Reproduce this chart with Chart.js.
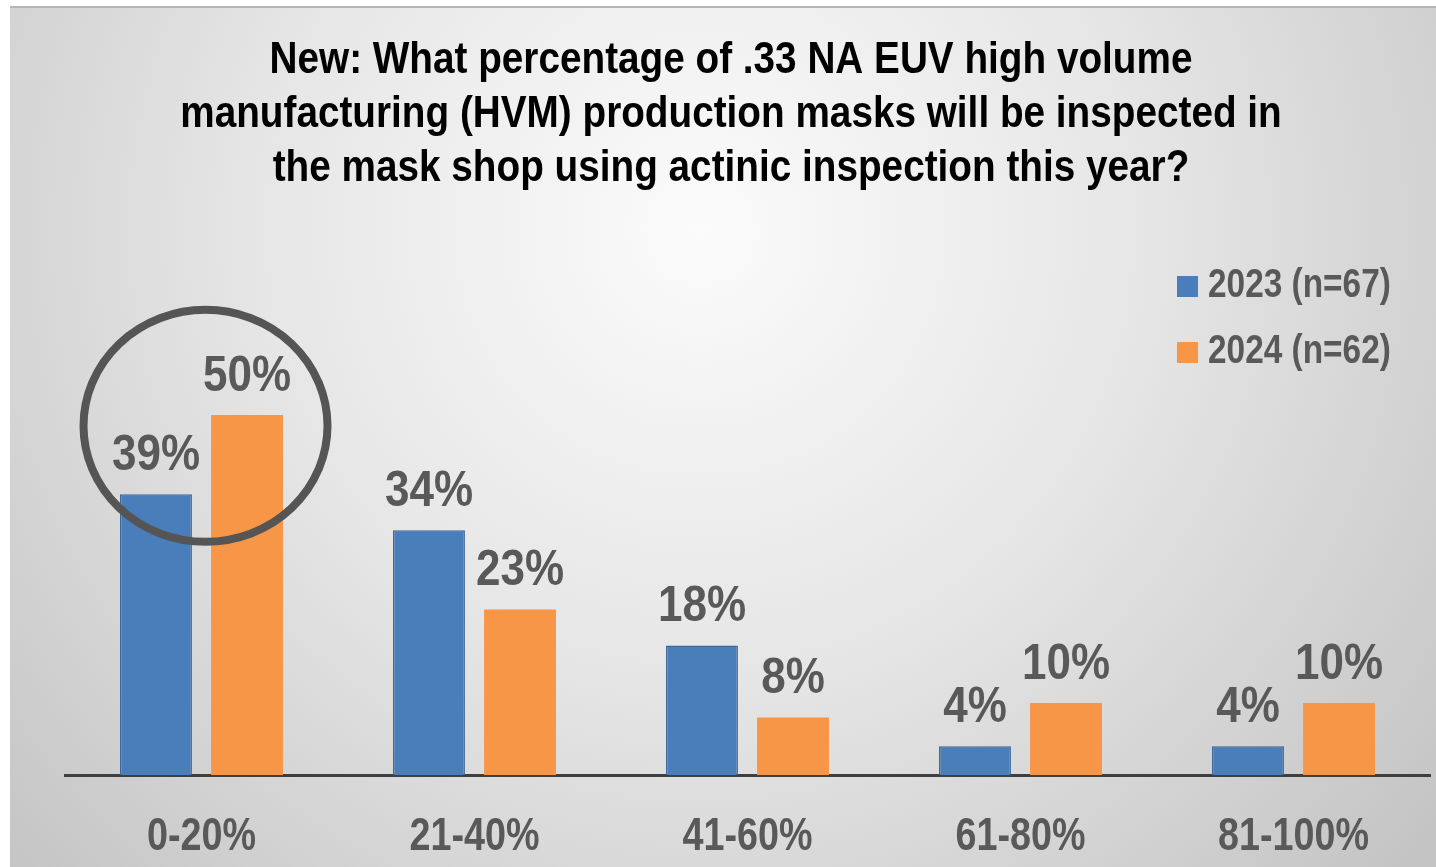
<!DOCTYPE html>
<html>
<head>
<meta charset="utf-8">
<title>Actinic inspection of .33 NA EUV HVM masks</title>
<script src="https://cdn.jsdelivr.net/npm/chart.js@4.4.1/dist/chart.umd.min.js"></script>
<style>
  html, body { margin: 0; padding: 0; background: #fff; }
  #wrap { width: 1436px; height: 867px; }
</style>
</head>
<body>
<div id="wrap"><canvas id="maskChart" width="1436" height="867"></canvas></div>
<script>
// Survey answers, share of respondents per bucket
const categories = ['0-20%', '21-40%', '41-60%', '61-80%', '81-100%'];
const seriesNames = ['2023 (n=67)', '2024 (n=62)'];
const values2023 = [39, 34, 18, 4, 4];
const values2024 = [50, 23, 8, 10, 10];
const titleLines = [
    'New: What percentage of .33 NA EUV high volume',
    'manufacturing (HVM) production masks will be inspected in',
    'the mask shop using actinic inspection this year?'
];

const FONT = "'Liberation Sans Narrow', 'Arial Narrow', 'Liberation Sans', Arial, sans-serif";
const GRAY = '#595959';

// No narrow face available, so squeeze the bold sans horizontally
function narrowText(ctx, text, x, y, align, sx) {
    ctx.save();
    ctx.translate(x, y);
    ctx.scale(sx, 1);
    ctx.textAlign = align;
    ctx.fillText(text, 0, 0);
    ctx.restore();
}

// Grey slide-style backdrop, brighter in the middle
const backdrop = {
    id: 'backdrop',
    beforeDraw(chart) {
        const ctx = chart.ctx;
        ctx.save();
        ctx.fillStyle = '#ffffff';
        ctx.fillRect(0, 0, chart.width, chart.height);
        const g = ctx.createRadialGradient(700, 230, 0, 700, 230, 980);
        g.addColorStop(0, '#fbfbfb');
        g.addColorStop(0.45, '#e6e6e6');
        g.addColorStop(1, '#c2c2c2');
        ctx.fillStyle = g;
        ctx.fillRect(10, 6, chart.width - 10, chart.height - 6);
        ctx.fillStyle = '#b4b4b4';
        ctx.fillRect(10, 6, chart.width - 10, 2);
        ctx.restore();
    }
};

// Three-line question above the plot
const questionTitle = {
    id: 'questionTitle',
    afterDraw(chart) {
        const ctx = chart.ctx;
        ctx.save();
        ctx.font = 'bold 44px ' + FONT;
        ctx.fillStyle = '#000000';
        ctx.textBaseline = 'alphabetic';
        titleLines.forEach((line, i) => {
            narrowText(ctx, line, 731, 73 + i * 54, 'center', 0.88);
        });
        ctx.restore();
    }
};

// Category names under the axis line
const categoryLabels = {
    id: 'categoryLabels',
    afterDraw(chart) {
        const ctx = chart.ctx;
        const xs = chart.scales.x;
        ctx.save();
        ctx.font = 'bold 46px ' + FONT;
        ctx.fillStyle = GRAY;
        ctx.textBaseline = 'alphabetic';
        chart.data.labels.forEach((label, i) => {
            narrowText(ctx, label, xs.getPixelForValue(i), chart.chartArea.bottom + 75, 'center', 0.82);
        });
        ctx.restore();
    }
};

// Percent labels above each bar
const valueLabels = {
    id: 'valueLabels',
    afterDatasetsDraw(chart) {
        const ctx = chart.ctx;
        ctx.save();
        ctx.font = 'bold 50px ' + FONT;
        ctx.fillStyle = GRAY;
        ctx.textBaseline = 'alphabetic';
        chart.data.datasets.forEach((ds, i) => {
            chart.getDatasetMeta(i).data.forEach((bar, j) => {
                narrowText(ctx, ds.data[j] + '%', bar.x, bar.y - 24, 'center', 0.88);
            });
        });
        ctx.restore();
    }
};

// Vertical legend in the upper right corner of the plot
const sideLegend = {
    id: 'sideLegend',
    afterDraw(chart) {
        const ctx = chart.ctx;
        const area = chart.chartArea;
        const x = area.right - 253;
        ctx.save();
        ctx.font = 'bold 40px ' + FONT;
        ctx.textBaseline = 'middle';
        chart.data.datasets.forEach((ds, i) => {
            const cy = area.top + 51 + i * 66;
            ctx.fillStyle = ds.backgroundColor;
            ctx.fillRect(x, cy - 10, 21, 21);
            ctx.fillStyle = GRAY;
            narrowText(ctx, ds.label, x + 31, cy, 'left', 0.835);
        });
        ctx.restore();
    }
};

// Ring highlighting the first answer bucket
const highlightRing = {
    id: 'highlightRing',
    afterDraw(chart) {
        const ctx = chart.ctx;
        const xs = chart.scales.x;
        const ys = chart.scales.y;
        ctx.save();
        ctx.strokeStyle = '#555555';
        ctx.lineWidth = 8;
        ctx.beginPath();
        ctx.ellipse(xs.getPixelForValue(0) + 4, ys.getPixelForValue(48.5), 122, 116, 0, 0, Math.PI * 2);
        ctx.stroke();
        ctx.restore();
    }
};

new Chart(document.getElementById('maskChart'), {
    type: 'bar',
    data: {
        labels: categories,
        datasets: [{
            label: seriesNames[0],
            data: values2023,
            backgroundColor: '#4a7ebb',
            borderColor: '#3c6898',
            borderWidth: 1.5,
            categoryPercentage: 0.667,
            barPercentage: 0.79
        }, {
            label: seriesNames[1],
            data: values2024,
            backgroundColor: '#f79646',
            borderWidth: 0,
            categoryPercentage: 0.667,
            barPercentage: 0.79
        }]
    },
    options: {
        responsive: false,
        animation: false,
        layout: {
            padding: { left: 32, right: 6, top: 235, bottom: 0 }
        },
        plugins: {
            legend: { display: false },
            tooltip: { enabled: false },
            title: { display: false }
        },
        scales: {
            x: {
                afterFit(scale) { scale.height = 92; },
                grid: { display: false, drawTicks: false },
                border: { display: true, color: '#3f3f3f', width: 3 },
                ticks: { display: false }
            },
            y: {
                min: 0,
                max: 75,
                afterFit(scale) { scale.width = 33; },
                grid: { display: false },
                border: { display: false },
                ticks: { display: false }
            }
        }
    },
    plugins: [backdrop, questionTitle, categoryLabels, valueLabels, sideLegend, highlightRing]
});
</script>
</body>
</html>
